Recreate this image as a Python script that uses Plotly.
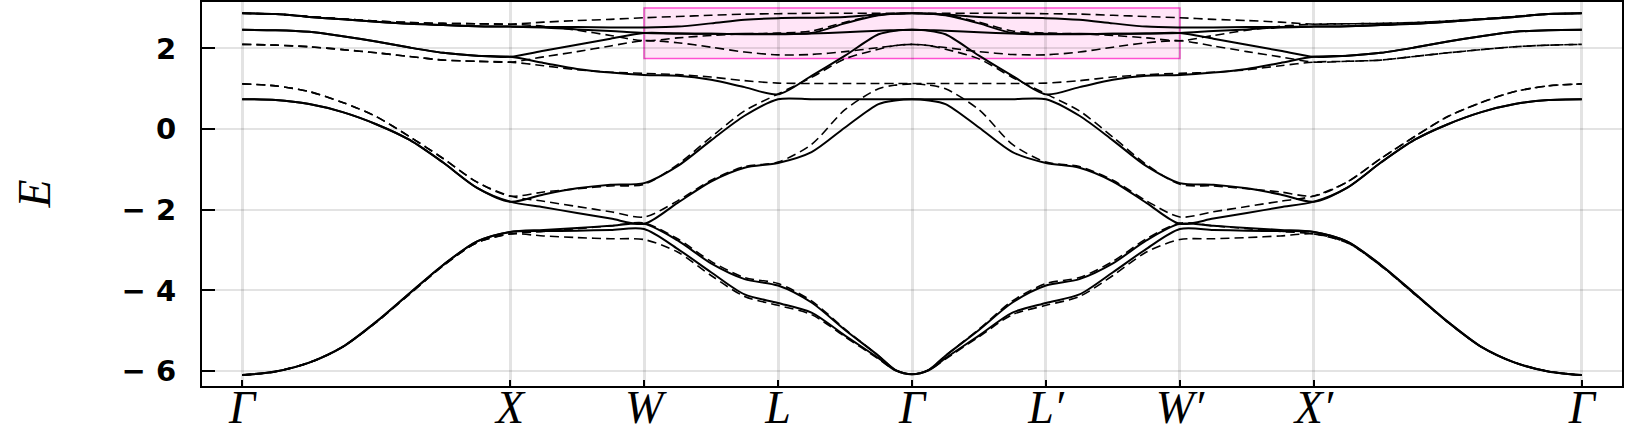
"""
Band structure plot: two tight-binding parameter sets (solid vs dashed)
along the path Γ-X-W-L-Γ-L'-W'-X'-Γ, with the highlighted window W..W'.
"""
import plotly.graph_objects as go

# k positions along the first half of the path (Γ=0, X=2, W=3, L=4, Γ=5)
k_half = [0.0, 0.25, 0.5, 0.75, 1.0, 1.25, 1.5, 1.75, 2.0,
          2.25, 2.5, 2.75, 3.0,
          3.25, 3.5, 3.75, 4.0,
          4.25, 4.5, 4.75, 4.875, 5.0]

# high symmetry points
tick_pos = [0, 2, 3, 4, 5, 6, 7, 8, 10]
tick_names = ['Γ', 'X', 'W', 'L', 'Γ', 'L′', 'W′', 'X′', 'Γ']

# solid bands (first half of the path)
solid_1 = [2.87, 2.85, 2.78, 2.72, 2.66, 2.61, 2.58, 2.55, 2.54,
           2.53, 2.53, 2.52, 2.52, 2.54, 2.62, 2.71, 2.75, 2.76, 2.78, 2.84, 2.86, 2.87]
solid_2 = [2.87, 2.85, 2.78, 2.72, 2.66, 2.61, 2.58, 2.55, 2.54,
           2.52, 2.47, 2.43, 2.38, 2.37, 2.36, 2.35, 2.35, 2.38, 2.62, 2.82, 2.86, 2.87]
solid_3 = [2.46, 2.45, 2.41, 2.30, 2.17, 2.02, 1.89, 1.82, 1.79,
           1.94, 2.09, 2.24, 2.38, 2.37, 2.36, 2.36, 2.36, 2.37, 2.40, 2.44, 2.45, 2.46]
solid_4 = [2.46, 2.45, 2.41, 2.30, 2.17, 2.02, 1.89, 1.82, 1.79,
           1.64, 1.49, 1.40, 1.34, 1.32, 1.22, 1.04, 0.86, 1.32, 1.82, 2.35, 2.44, 2.46]
solid_5 = [0.74, 0.72, 0.62, 0.42, 0.12, -0.27, -0.83, -1.45, -1.80,
           -1.62, -1.47, -1.38, -1.34, -0.92, -0.28, 0.33, 0.74, 0.74, 0.74, 0.74, 0.74, 0.74]
solid_6 = [0.74, 0.72, 0.62, 0.42, 0.12, -0.27, -0.83, -1.45, -1.80,
           -1.94, -2.08, -2.22, -2.35, -1.83, -1.30, -0.96, -0.84, -0.57, 0.04, 0.62, 0.71, 0.74]
solid_7 = [-6.10, -6.01, -5.79, -5.40, -4.78, -4.07, -3.37, -2.79, -2.55,
           -2.50, -2.45, -2.40, -2.35, -2.76, -3.33, -3.72, -3.88, -4.30, -4.98, -5.62, -5.97, -6.08]
solid_8 = [-6.10, -6.01, -5.79, -5.40, -4.78, -4.07, -3.37, -2.79, -2.55,
           -2.53, -2.52, -2.50, -2.48, -2.97, -3.55, -4.10, -4.31, -4.55, -5.12, -5.68, -5.98, -6.08]

# dashed bands
dashed_1 = [2.87, 2.85, 2.79, 2.73, 2.68, 2.64, 2.62, 2.61, 2.60,
            2.65, 2.69, 2.72, 2.76, 2.79, 2.82, 2.85, 2.86, 2.87, 2.87, 2.87, 2.87, 2.87]
dashed_2 = [2.87, 2.85, 2.79, 2.73, 2.68, 2.64, 2.62, 2.61, 2.60,
            2.55, 2.45, 2.32, 2.19, 2.26, 2.32, 2.36, 2.38, 2.43, 2.65, 2.83, 2.86, 2.87]
dashed_3 = [2.10, 2.08, 2.04, 1.97, 1.89, 1.80, 1.71, 1.68, 1.66,
            1.79, 1.92, 2.06, 2.19, 2.14, 2.03, 1.91, 1.84, 1.85, 1.92, 2.02, 2.07, 2.10]
dashed_4 = [2.10, 2.08, 2.04, 1.97, 1.89, 1.80, 1.71, 1.68, 1.66,
            1.57, 1.47, 1.41, 1.38, 1.35, 1.29, 1.20, 1.14, 1.13, 1.13, 1.13, 1.13, 1.13]
dashed_5 = [1.12, 1.07, 0.93, 0.66, 0.31, -0.19, -0.73, -1.31, -1.66,
            -1.56, -1.48, -1.41, -1.37, -0.88, -0.20, 0.45, 0.87, 1.28, 1.74, 1.98, 2.07, 2.10]
dashed_6 = [1.12, 1.07, 0.93, 0.66, 0.31, -0.19, -0.73, -1.31, -1.66,
            -1.79, -1.92, -2.05, -2.18, -1.78, -1.27, -0.93, -0.82, -0.38, 0.48, 1.00, 1.09, 1.12]
dashed_7 = [-6.10, -6.01, -5.79, -5.40, -4.79, -4.09, -3.39, -2.82, -2.60,
            -2.54, -2.47, -2.40, -2.33, -2.72, -3.28, -3.68, -3.83, -4.26, -4.96, -5.62, -5.97, -6.08]
dashed_8 = [-6.10, -6.01, -5.79, -5.40, -4.79, -4.09, -3.39, -2.82, -2.60,
            -2.65, -2.69, -2.72, -2.74, -3.05, -3.63, -4.15, -4.37, -4.60, -5.15, -5.70, -5.98, -6.08]

# highlighted energy window
window_k = [3, 7]
window_e = [1.75, 3.0]


def mirror_path(values):
    """Second half of the path is the mirror image of the first half"""
    return list(values) + list(reversed(values[:-1]))


k_full = list(k_half) + [10 - k for k in reversed(k_half[:-1])]

fig = go.Figure()

# Solid bands
for band in [solid_1, solid_2, solid_3, solid_4, solid_5, solid_6, solid_7, solid_8]:
    fig.add_trace(go.Scatter(
        x=k_full,
        y=mirror_path(band),
        mode='lines',
        line=dict(color='black', width=2, shape='spline', smoothing=0.8),
        hoverinfo='skip'
    ))

# Dashed bands
for band in [dashed_1, dashed_2, dashed_3, dashed_4, dashed_5, dashed_6, dashed_7, dashed_8]:
    fig.add_trace(go.Scatter(
        x=k_full,
        y=mirror_path(band),
        mode='lines',
        line=dict(color='black', width=1.6, dash='9px,5px', shape='spline', smoothing=0.8),
        hoverinfo='skip'
    ))

# Window box
fig.add_shape(
    type='rect',
    x0=window_k[0], x1=window_k[1],
    y0=window_e[0], y1=window_e[1],
    line=dict(color='#ff4fd2', width=1.5),
    fillcolor='rgba(255,0,180,0.10)',
    layer='below'
)

# Axis title drawn as annotation (rotated italic E)
fig.add_annotation(
    text='<i>E</i>',
    xref='paper', yref='paper',
    x=-0.118, y=0.5,
    xanchor='center', yanchor='middle',
    textangle=-90,
    showarrow=False,
    font=dict(family='Liberation Serif', size=46, color='black')
)

fig.update_layout(
    width=1627,
    height=425,
    plot_bgcolor='white',
    paper_bgcolor='white',
    showlegend=False,
    margin=dict(l=202, r=5, t=2, b=39),
    xaxis=dict(
        range=[-0.3, 10.3],
        automargin=False,
        tickmode='array',
        tickvals=tick_pos,
        ticktext=['<i>%s</i>' % t for t in tick_names],
        ticks='inside',
        ticklen=6,
        tickwidth=2,
        tickcolor='black',
        ticklabelstandoff=-20,
        tickfont=dict(family='Liberation Serif', size=46, color='black'),
        showgrid=True,
        gridcolor='rgba(0,0,0,0.11)',
        gridwidth=3,
        showline=True,
        linecolor='black',
        linewidth=2,
        mirror=True,
        zeroline=False
    ),
    yaxis=dict(
        range=[-6.37, 3.15],
        automargin=False,
        tickmode='array',
        tickvals=[-6, -4, -2, 0, 2],
        ticktext=['− 6', '− 4', '− 2', '0', '2'],
        ticks='inside',
        ticklen=13,
        tickwidth=2,
        tickcolor='black',
        ticklabelstandoff=18,
        tickfont=dict(family='DejaVu Sans', size=29, color='black', weight='bold'),
        showgrid=True,
        gridcolor='rgba(0,0,0,0.11)',
        gridwidth=1.5,
        showline=True,
        linecolor='black',
        linewidth=2,
        mirror=True,
        zeroline=False
    )
)

# page body has a default 8px margin; drop it so the figure sits at the corner
fig.write_html(
    "out.html",
    config={'displayModeBar': False},
    post_script="document.body.style.margin = '0';"
)
